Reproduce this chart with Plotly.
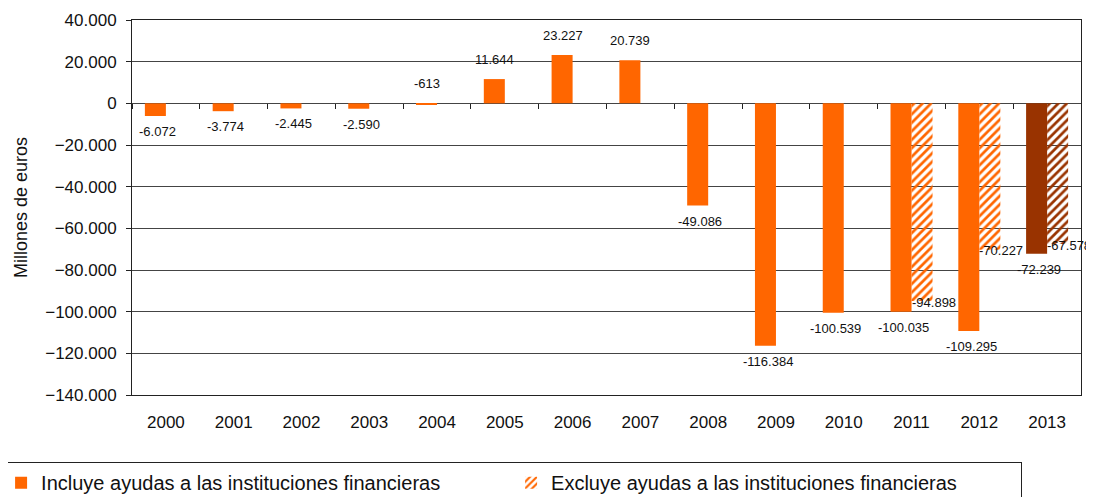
import plotly.graph_objects as go

years = [str(y) for y in range(2000, 2014)]
incluye = [-6072, -3774, -2445, -2590, -613, 11644, 23227, 20739,
           -49086, -116384, -100539, -100035, -109295, -72239]
excluye_years = ["2011", "2012", "2013"]
excluye = [-94898, -70227, -67578]
y_ticks = list(range(-140000, 40001, 20000))

ORANGE = "#FF6600"
BROWN = "#993300"
FONT = "Liberation Sans, Arial, sans-serif"

def fmt(v):
    return f"{v:,}".replace(",", ".")

inc_colors = [BROWN if y == "2013" else ORANGE for y in years]
exc_colors = [BROWN if y == "2013" else ORANGE for y in excluye_years]

fig = go.Figure()
fig.add_trace(go.Bar(
    x=years, y=incluye, name="Incluye ayudas a las instituciones financieras",
    marker=dict(color=inc_colors, line=dict(width=0)),
    hoverinfo="skip",
))
fig.add_trace(go.Bar(
    x=excluye_years, y=excluye, name="Excluye ayudas a las instituciones financieras",
    marker=dict(color=exc_colors, line=dict(width=0),
                pattern=dict(shape="/", fgcolor=exc_colors, bgcolor="white",
                             size=6, solidity=0.45, fillmode="replace")),
    hoverinfo="skip",
))
# invisible helper trace for the tick axis drawn on the zero line
fig.add_trace(go.Scatter(x=years, y=[0] * len(years), xaxis="x2", mode="markers",
                         marker=dict(opacity=0), showlegend=False, hoverinfo="skip"))

lab_font = dict(family=FONT, size=13, color="#111")
for y, v in zip(years, incluye):
    i = years.index(y)
    if v > -1000:
        fig.add_annotation(x=i, y=max(v, 0), xref="x", yref="y", text=fmt(v),
                           showarrow=False, xshift=-10, yshift=10, yanchor="bottom",
                           font=lab_font)
    else:
        fig.add_annotation(x=i, y=v, xref="x", yref="y", text=fmt(v),
                           showarrow=False, xshift=-8, yshift=-6, yanchor="top",
                           font=lab_font)
for y, v in zip(excluye_years, excluye):
    i = years.index(y)
    fig.add_annotation(x=i, y=v, xref="x", yref="y", text=fmt(v), showarrow=False,
                       xshift=-2, yshift=-1, xanchor="left", yanchor="middle",
                       font=lab_font)

y0_frac = (0 - y_ticks[0]) / (y_ticks[-1] - y_ticks[0])

fig.update_layout(
    width=1086, height=489,
    margin=dict(l=124, r=13, t=12, b=102, autoexpand=False),
    paper_bgcolor="white", plot_bgcolor="white",
    barmode="group", bargap=0.38, bargroupgap=0,
    separators=",.",
    font=dict(family=FONT, color="#111"),
    xaxis=dict(
        type="category", categoryorder="array", categoryarray=years,
        range=[-0.5, 13.5], automargin=False,
        showline=True, mirror=True, linecolor="#222", linewidth=1,
        ticks="", showgrid=False, tickfont=dict(size=17, family=FONT, color="#111"),
        ticklabelstandoff=12,
    ),
    xaxis2=dict(
        type="category", matches="x", anchor="free", position=y0_frac, overlaying="x",
        side="bottom", showticklabels=False, ticks="outside", ticklen=5,
        tickcolor="#222", tickson="boundaries", showline=False, showgrid=False,
        automargin=False,
    ),
    yaxis=dict(
        range=[y_ticks[0], y_ticks[-1]], tickvals=y_ticks, tickformat=",d",
        automargin=False,
        showline=True, mirror=True, linecolor="#222", linewidth=1,
        ticks="outside", ticklen=5, tickcolor="#222", ticklabelstandoff=6,
        showgrid=True, gridcolor="#444", gridwidth=1,
        zeroline=True, zerolinecolor="#444", zerolinewidth=1,
        tickfont=dict(size=17, family=FONT, color="#111"),
        title=dict(text="Millones de euros", font=dict(size=18, family=FONT, color="#111"),
                   standoff=12),
    ),
    legend=dict(
        orientation="h", x=-0.139, xanchor="left", y=-0.179, yanchor="top",
        font=dict(size=20, family=FONT, color="#111"),
        bordercolor="#222", borderwidth=1, bgcolor="white",
        entrywidth=465, itemwidth=30, traceorder="normal",
    ),
    showlegend=True,
)

fig.write_html("out.html")
